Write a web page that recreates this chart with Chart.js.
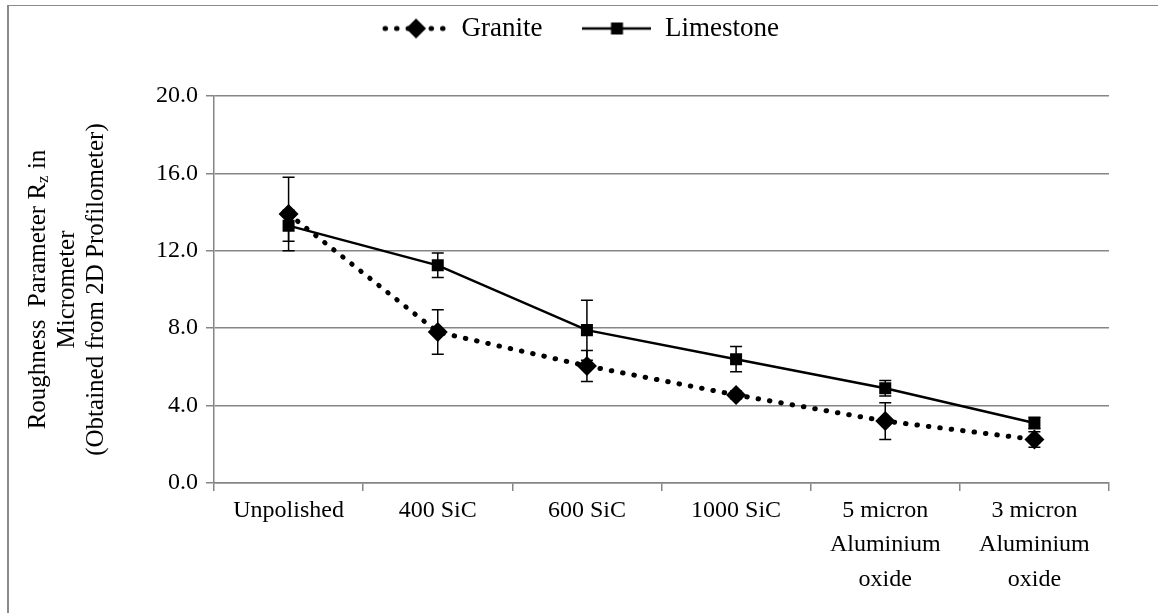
<!DOCTYPE html>
<html>
<head>
<meta charset="utf-8">
<script src="https://cdn.jsdelivr.net/npm/chart.js@4.4.1/dist/chart.umd.min.js"></script>
<style>
  html, body { margin: 0; padding: 0; background: #fff; overflow: hidden; }
  #frame { position: absolute; left: 7px; top: 5px; width: 1151px; height: 608px;
           border-top: 1px solid #8a8a8a; border-left: 2px solid #8a8a8a; box-sizing: border-box; }
  #roughness { position: absolute; left: 0; top: 0; }
</style>
</head>
<body>
<div id="frame"></div>
<canvas id="roughness" width="1158" height="613"></canvas>
<script>
const categories = [
  ['Unpolished'], ['400 SiC'], ['600 SiC'], ['1000 SiC'],
  ['5 micron', 'Aluminium', 'oxide'], ['3 micron', 'Aluminium', 'oxide']
];
const granite = [13.9, 7.8, 6.05, 4.55, 3.2, 2.25];
const graniteErr = [1.9, 1.15, 0.8, 0.2, 0.95, 0.4];
const limestone = [13.3, 11.25, 7.9, 6.4, 4.9, 3.1];
const limestoneErr = [0.8, 0.63, 1.55, 0.65, 0.4, 0.3];
const yTicks = [0, 4, 8, 12, 16, 20];

const FONT = "'Liberation Serif', 'Times New Roman', serif";
const GRID = '#868686';
const LEGEND_TOP = -25;

// legend symbols: a short piece of line with the marker in the middle
function legendIcon(dotted) {
  const c = document.createElement('canvas');
  c.width = 69; c.height = 24;
  const g = c.getContext('2d');
  g.strokeStyle = '#000';
  g.fillStyle = '#000';
  g.beginPath();
  if (dotted) {
    g.lineWidth = 5; g.lineCap = 'round'; g.setLineDash([0.5, 11]);
    g.moveTo(6, 12); g.lineTo(67, 12);
  } else {
    g.lineWidth = 2.5;
    g.moveTo(0, 12); g.lineTo(69, 12);
  }
  g.stroke();
  g.setLineDash([]);
  g.beginPath();
  if (dotted) {
    g.moveTo(37, 2); g.lineTo(47, 12); g.lineTo(37, 22); g.lineTo(27, 12);
    g.closePath(); g.fill();
  } else {
    g.fillRect(28.5, 6, 12, 12);
  }
  return c;
}
const legendIcons = [legendIcon(true), legendIcon(false)];

// keep the legend up near the frame instead of right on top of the plot
const legendPlacement = {
  id: 'legendPlacement',
  afterLayout(chart) {
    const lg = chart.legend;
    const h = lg.bottom - lg.top;
    lg.top = LEGEND_TOP;
    lg.bottom = LEGEND_TOP + h;
  }
};

const errorBars = {
  id: 'errorBars',
  beforeDatasetsDraw(chart) {
    const {ctx, scales: {x, y}} = chart;
    ctx.save();
    ctx.strokeStyle = '#000';
    ctx.lineWidth = 1.5;
    chart.data.datasets.forEach(ds => {
      ds.data.forEach((v, i) => {
        const px = x.getPixelForValue(i);
        const top = y.getPixelForValue(v + ds.errors[i]);
        const bot = y.getPixelForValue(v - ds.errors[i]);
        ctx.beginPath();
        ctx.moveTo(px, top); ctx.lineTo(px, bot);
        ctx.moveTo(px - 6, top); ctx.lineTo(px + 6, top);
        ctx.moveTo(px - 6, bot); ctx.lineTo(px + 6, bot);
        ctx.stroke();
      });
    });
    ctx.restore();
  }
};

// three-line rotated axis title, with a subscript z
const yTitleLines = [
  [['Roughness  Parameter R', false], ['z', true], [' in', false]],
  [['Micrometer', false]],
  [['(Obtained from 2D Profilometer)', false]]
];
const yTitle = {
  id: 'yTitle',
  afterDraw(chart) {
    const ctx = chart.ctx;
    const cy = (chart.chartArea.top + chart.chartArea.bottom) / 2;
    const cols = [38, 67, 96];
    ctx.save();
    ctx.fillStyle = '#000';
    ctx.textBaseline = 'middle';
    ctx.textAlign = 'left';
    yTitleLines.forEach((parts, i) => {
      const fontOf = sub => (sub ? '17px ' : '25px ') + FONT;
      let total = 0;
      parts.forEach(([t, sub]) => { ctx.font = fontOf(sub); total += ctx.measureText(t).width; });
      ctx.save();
      ctx.translate(cols[i], cy);
      ctx.rotate(-Math.PI / 2);
      let px = -total / 2;
      parts.forEach(([t, sub]) => {
        ctx.font = fontOf(sub);
        ctx.fillText(t, px, sub ? 6 : 0);
        px += ctx.measureText(t).width;
      });
      ctx.restore();
    });
    ctx.restore();
  }
};

new Chart(document.getElementById('roughness'), {
  type: 'line',
  data: {
    labels: categories,
    datasets: [
      {
        label: 'Granite',
        data: granite,
        errors: graniteErr,
        borderColor: '#000',
        backgroundColor: '#000',
        borderWidth: 5,
        borderDash: [0.5, 11],
        borderCapStyle: 'round',
        pointStyle: 'rectRot',
        pointRadius: 10,
        pointBorderWidth: 0,
        tension: 0
      },
      {
        label: 'Limestone',
        data: limestone,
        errors: limestoneErr,
        borderColor: '#000',
        backgroundColor: '#000',
        borderWidth: 2.5,
        pointStyle: 'rect',
        pointRadius: 8.5,
        pointBorderWidth: 0,
        tension: 0
      }
    ]
  },
  options: {
    responsive: false,
    animation: false,
    layout: { padding: 0 },
    scales: {
      x: {
        offset: true,
        grid: { display: true, offset: true, drawOnChartArea: false, drawTicks: true, tickLength: 8, color: GRID, lineWidth: 1.5 },
        border: { display: true, color: GRID, width: 1.5 },
        ticks: {
          color: '#000', maxRotation: 0, autoSkip: false, padding: 2,
          font: { family: FONT, size: 24, lineHeight: 1.45 }
        },
        afterFit(scale) { scale.height = 130; scale.paddingRight = 49; }
      },
      y: {
        min: 0,
        max: 20,
        afterBuildTicks(scale) { scale.ticks = yTicks.map(v => ({ value: v })); },
        grid: { color: GRID, lineWidth: 1.5, tickLength: 8 },
        border: { display: true, color: GRID, width: 1.5 },
        ticks: {
          color: '#000', padding: 8,
          font: { family: FONT, size: 24 },
          callback: v => v.toFixed(1)
        },
        afterFit(scale) { scale.width = 214; scale.paddingTop = 96; }
      }
    },
    plugins: {
      legend: {
        position: 'top',
        labels: {
          usePointStyle: true,
          pointStyleWidth: 69,
          padding: 40,
          color: '#000',
          font: { family: FONT, size: 27 },
          generateLabels: chart => chart.data.datasets.map((ds, i) => ({
            text: ds.label,
            pointStyle: legendIcons[i],
            fontColor: '#000',
            lineWidth: 0,
            strokeStyle: 'transparent',
            hidden: false,
            datasetIndex: i
          }))
        }
      },
      tooltip: { enabled: false }
    }
  },
  plugins: [legendPlacement, errorBars, yTitle]
});
</script>
</body>
</html>
